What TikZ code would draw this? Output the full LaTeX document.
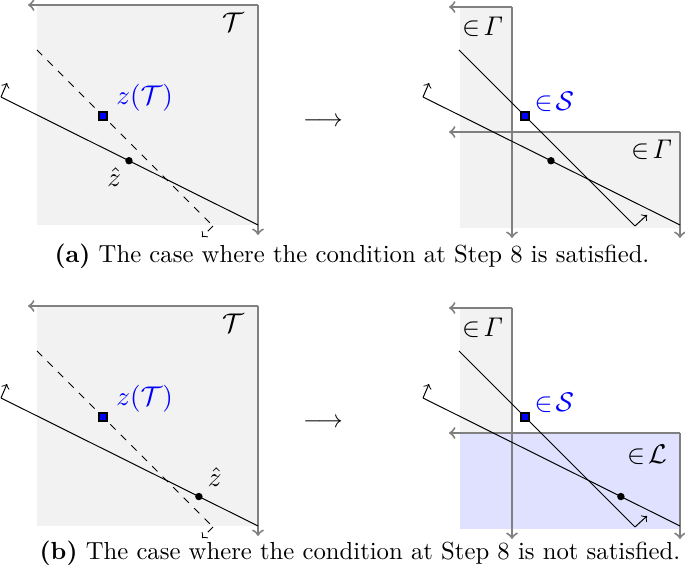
\documentclass[tikz,border=0pt]{standalone}
\usepackage{amsmath}
\usetikzlibrary{arrows.meta}
\tikzset{>=to, line width=0.6pt}
\tikzset{
  frame/.style={draw=gray, line width=0.8pt, ->},
  region/.style={fill=gray!10},
  lregion/.style={fill=blue!12},
  dot/.style={circle, fill, inner sep=0pt, minimum size=3pt},
  center/.style={rectangle, draw, fill=blue, inner sep=0pt, minimum size=3.3pt, line width=0.5pt},
  lbl/.style={font=\fontsize{11}{13}\selectfont},
}

\begin{document}
\begin{tikzpicture}[x=0.405pt, y=-0.405pt]
  \useasboundingbox (0,0) rectangle (685,569);
  \def\xshift{422}

  \foreach \p/\dy in {a/0,b/301}{
    \begin{scope}[shift={(0,\dy)}]
      % cell T
      \fill[region] (37,5) rectangle (258,225);
      \coordinate (T\p) at (258,5);
      \coordinate (T\p-w) at (28,5);
      \coordinate (T\p-s) at (258,235);
      \draw[frame] (T\p) -- (T\p-w);
      \draw[frame] (T\p) -- (T\p-s);
      \node[lbl] (lT\p) at (233,22) {$\mathcal{T}$};

      % cuts h and g
      \coordinate (h\p-1) at (1,97);
      \coordinate (h\p-2) at (258,225);
      \coordinate (h\p-n) at (7,83);
      \coordinate (g\p-1) at (37,50);
      \coordinate (g\p-2) at (213,226);
      \coordinate (g\p-n) at (202,237);
      \draw (h\p-1) -- (h\p-2);
      \draw[->] (h\p-1) -- (h\p-n);
      \draw[dashed] (g\p-1) -- (g\p-2);
      \draw[->, dashed] (g\p-2) -- (g\p-n);
      \path (g\p-1) -- node[pos=0.375, center, label={[lbl, blue, xshift=0pt, yshift=-3.5pt]above right:$z(\mathcal{T})$}] (z\p) {} (g\p-2);

      % arrow
      \node (arr\p) at (323,122) {$\longrightarrow$};

      % split cells
      \coordinate (Ga\p) at (512,7);
      \coordinate (Ga\p-w) at (449,7);
      \coordinate (Ga\p-s) at (512,238);
      \coordinate (Gb\p) at (680,132);
      \coordinate (Gb\p-w) at (449,132);
      \coordinate (Gb\p-s) at (680,238);
    \end{scope}
  }

  % fills of the split cells
  \fill[region] (460,7) rectangle (512,228);
  \fill[region] (512,132) rectangle (680,228);
  \fill[region] (460,308) rectangle (512,433);
  \fill[lregion] (460,433) rectangle (680,529);

  \foreach \p/\dy in {a/0,b/301}{
    \begin{scope}[shift={(0,\dy)}]
      \draw[frame] (Ga\p) -- (Ga\p-w);
      \draw[frame] (Ga\p) -- (Ga\p-s);
      \draw[frame] (Gb\p) -- (Gb\p-w);
      \draw[frame] (Gb\p) -- (Gb\p-s);

      \coordinate (H\p-1) at (423,97);
      \coordinate (H\p-2) at (680,225);
      \coordinate (H\p-n) at (429,83);
      \coordinate (K\p-1) at (459,50);
      \coordinate (K\p-2) at (635,226);
      \coordinate (K\p-n) at (647,215);
      \draw (H\p-1) -- (H\p-2);
      \draw[->] (H\p-1) -- (H\p-n);
      \draw (K\p-1) -- (K\p-2);
      \draw[->] (K\p-2) -- (K\p-n);
      \path (K\p-1) -- node[pos=0.375, center, label={[lbl, blue, xshift=-1.5pt, yshift=-3.5pt]above right:$\in\!\mathcal{S}$}] (S\p) {} (K\p-2);
      \node[lbl] (lG\p) at (483,27) {$\in\!\mathit{\Gamma}$};
    \end{scope}
  }

  % (a) hat z
  \path (ha-1) -- node[pos=0.498, dot, label={[lbl, label distance=-2.5pt]-115:$\hat{z}$}] (zha) {} (ha-2);
  \path (Ha-1) -- node[pos=0.498, dot] (Zha) {} (Ha-2);
  \node[lbl] (lGa2) at (652,150) {$\in\!\mathit{\Gamma}$};
  \node (capa) at (352,256) {\textbf{(a)} The case where the condition at Step 8 is satisfied.};

  % (b) hat z
  \path (hb-1) -- node[pos=0.77, dot, label={[lbl, label distance=-1pt]80:$\hat{z}$}] (zhb) {} (hb-2);
  \path (Hb-1) -- node[pos=0.77, dot] (Zhb) {} (Hb-2);
  \node[lbl] (lLb) at (647,455) {$\in\!\mathcal{L}$};
  \node (capb) at (360,553) {\textbf{(b)} The case where the condition at Step 8 is not satisfied.};
\end{tikzpicture}
\end{document}
